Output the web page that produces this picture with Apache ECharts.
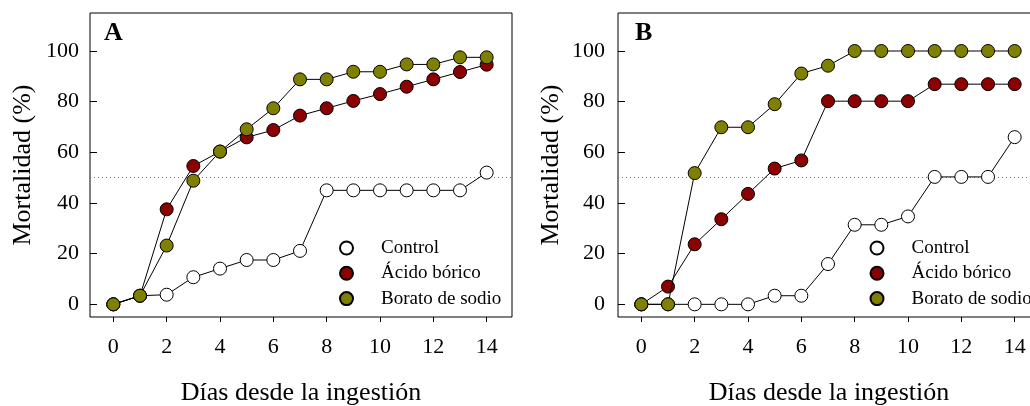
<!DOCTYPE html>
<html>
<head>
<meta charset="utf-8">
<script src="https://cdn.jsdelivr.net/npm/echarts@6/dist/echarts.min.js"></script>
<style>
  html, body { margin: 0; padding: 0; background: #fff; }
  #chart { width: 1030px; height: 406px; }
</style>
</head>
<body>
<div id="chart"></div>
<script>
// Days after ingestion
const days = [0, 1, 2, 3, 4, 5, 6, 7, 8, 9, 10, 11, 12, 13, 14];
const xTicks = [0, 2, 4, 6, 8, 10, 12, 14];
const yTicks = [0, 20, 40, 60, 80, 100];
const seriesNames = ['Control', 'Ácido bórico', 'Borato de sodio'];
const panelLabels = ['A', 'B'];

// Cumulative mortality (%) – panel A
const controlA = [0, 3.4, 3.8, 10.7, 14.1, 17.5, 17.5, 21.1, 45, 45, 45, 45, 45, 45, 52];
const acidoA   = [0, 3.4, 37.5, 54.6, 60.3, 65.9, 68.8, 74.5, 77.4, 80.3, 83.0, 85.9, 88.8, 91.7, 94.6];
const boratoA  = [0, 3.4, 23.2, 48.8, 60.3, 69.1, 77.4, 88.8, 88.8, 91.8, 91.8, 94.7, 94.7, 97.5, 97.5];

// Cumulative mortality (%) – panel B
const controlB = [0, 0, 0, 0, 0, 3.4, 3.4, 15.9, 31.4, 31.4, 34.7, 50.3, 50.3, 50.3, 66.0];
const acidoB   = [0, 7.0, 23.7, 33.6, 43.6, 53.6, 56.8, 80.2, 80.2, 80.2, 80.2, 86.9, 86.9, 86.9, 86.9];
const boratoB  = [0, 0, 51.8, 69.9, 69.9, 79.0, 91.1, 94.2, 100, 100, 100, 100, 100, 100, 100];

const halfLine = 50;

const FONT = '"Liberation Serif", "DejaVu Serif", serif';
const fills = ['#ffffff', '#8b0000', '#808000'];

const chart = echarts.init(document.getElementById('chart'), null, { renderer: 'canvas' });

function pairs(vals) {
  return days.map((d, i) => [d, vals[i]]);
}

function makeSeries(gridIdx, vals, k) {
  const s = {
    name: seriesNames[k],
    type: 'line',
    xAxisIndex: gridIdx,
    yAxisIndex: gridIdx,
    data: pairs(vals),
    symbol: 'circle',
    symbolSize: 13,
    showAllSymbol: true,
    lineStyle: { color: '#000', width: 1 },
    itemStyle: { color: fills[k], borderColor: '#000', borderWidth: 1 },
    emphasis: { disabled: true },
    animation: false,
    z: 3 + k
  };
  if (k === 0) {
    // 50 % reference line
    s.markLine = {
      silent: true,
      symbol: 'none',
      label: { show: false },
      lineStyle: { color: '#777', type: [1, 3], width: 1 },
      data: [{ yAxis: halfLine }],
      z: 1
    };
  }
  return s;
}

const gridTop = 13, gridH = 304, gridW = 422;
const gridLefts = [90, 618];

function xAxisFor(i) {
  return {
    type: 'value', gridIndex: i, min: -0.875, max: 14.95,
    axisLine: { show: false, onZero: false },
    splitLine: { show: false },
    axisTick: { show: true, inside: false, length: 5, customValues: xTicks, lineStyle: { color: '#000' } },
    axisLabel: { customValues: xTicks, margin: 19.5, fontFamily: FONT, fontSize: 22, color: '#000' },
    name: 'Días desde la ingestión',
    nameLocation: 'middle',
    nameGap: 63,
    nameTextStyle: { fontFamily: FONT, fontSize: 26, color: '#000' }
  };
}

function yAxisFor(i, labelMargin) {
  return {
    type: 'value', gridIndex: i, min: -5, max: 115,
    axisLine: { show: false, onZero: false },
    splitLine: { show: false },
    axisTick: { show: true, inside: true, length: 7, customValues: yTicks, lineStyle: { color: '#000' } },
    axisLabel: { customValues: yTicks, margin: labelMargin, fontFamily: FONT, fontSize: 22, color: '#000' },
    name: 'Mortalidad (%)',
    nameLocation: 'middle',
    nameGap: 54,
    nameTextStyle: { fontFamily: FONT, fontSize: 26, color: '#000' }
  };
}

function legendFor(left) {
  return {
    left: left, top: 238,
    orient: 'vertical',
    padding: 0,
    icon: 'circle',
    itemWidth: 13, itemHeight: 13,
    itemGap: 5.3,
    selectedMode: false,
    data: seriesNames,
    textStyle: { fontFamily: FONT, fontSize: 19, lineHeight: 20, color: '#000', padding: [0, 0, 0, 23] }
  };
}

const option = {
  backgroundColor: '#fff',
  animation: false,
  title: [
    { text: panelLabels[0], left: 104, top: 20, padding: 0,
      textStyle: { fontFamily: FONT, fontSize: 26, fontWeight: 'bold', color: '#000' } },
    { text: panelLabels[1], left: 635, top: 20, padding: 0,
      textStyle: { fontFamily: FONT, fontSize: 26, fontWeight: 'bold', color: '#000' } }
  ],
  grid: gridLefts.map(l => ({
    left: l, top: gridTop, width: gridW, height: gridH,
    show: true, borderColor: '#000', borderWidth: 1, backgroundColor: 'transparent',
    containLabel: false,
    outerBoundsMode: 'none'
  })),
  xAxis: [xAxisFor(0), xAxisFor(1)],
  yAxis: [yAxisFor(0, 11), yAxisFor(1, 13)],
  legend: [legendFor(339), legendFor(869.5)],
  series: [
    makeSeries(0, controlA, 0),
    makeSeries(0, acidoA, 1),
    makeSeries(0, boratoA, 2),
    makeSeries(1, controlB, 0),
    makeSeries(1, acidoB, 1),
    makeSeries(1, boratoB, 2)
  ]
};

chart.setOption(option);
</script>
</body>
</html>
